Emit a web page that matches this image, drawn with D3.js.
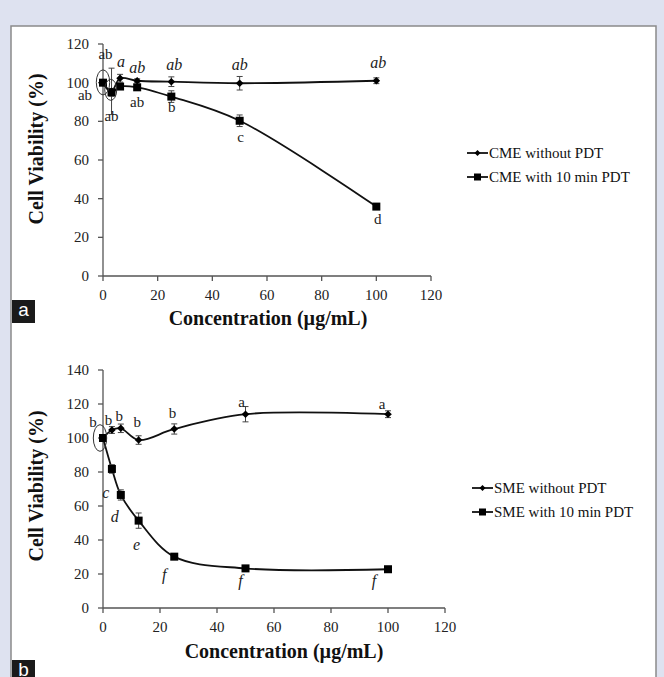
<!DOCTYPE html>
<html>
<head>
<meta charset="utf-8">
<script src="https://cdn.jsdelivr.net/npm/d3@7"></script>
<style>
  body { margin: 0; background: #dee2f0; }
  svg { display: block; font-family: 'Liberation Serif', 'Times New Roman', serif; }
</style>
</head>
<body>
<article></article>
<script>
// Data
const concentrations = [0, 3.125, 6.25, 12.5, 25, 50, 100];

const cmeWithout = [100, 95.5, 102.3, 101, 100.5, 99.7, 101];
const cmeWithoutErr = [1, 12, 2, 1, 2.5, 3.5, 1.5];
const cmeWith = [100, 95, 98, 97.6, 92.8, 80.3, 35.9];
const cmeWithErr = [1, 2, 1.5, 1, 3, 3, 1];

const smeWithout = [100, 104.7, 105.7, 98.8, 105.3, 114, 114];
const smeWithoutErr = [1, 2, 2.5, 2.5, 3, 4.5, 2];
const smeWith = [100, 81.8, 66.5, 51.4, 30.2, 23.3, 22.8];
const smeWithErr = [1, 2.5, 3, 4.5, 1, 1, 1];

// significance letters (index aligned with concentrations)
const cmeWithoutLetters = ['ab', '', 'a', 'ab', 'ab', 'ab', 'ab'];
const cmeWithLetters = ['ab', 'ab', '', 'ab', 'b', 'c', 'd'];
const smeWithoutLetters = ['b', 'b', 'b', 'b', 'b', 'a', 'a'];
const smeWithLetters = ['', 'c', 'd', 'e', 'f', 'f', 'f'];

const xTicks = [0, 20, 40, 60, 80, 100, 120];
const yTicksA = [0, 20, 40, 60, 80, 100, 120];
const yTicksB = [0, 20, 40, 60, 80, 100, 120, 140];

const legendA = ['CME without PDT', 'CME with 10 min PDT'];
const legendB = ['SME without PDT', 'SME with 10 min PDT'];

(() => {
  window.addEventListener('DOMContentLoaded', () => {
    const WIDTH = 664;
    const HEIGHT = 677;

    const svg = d3
      .select('article')
      .append('svg')
      .attr('width', WIDTH)
      .attr('height', HEIGHT)
      .attr('viewBox', `0 0 ${WIDTH} ${HEIGHT}`);

    svg
      .append('rect')
      .attr('width', WIDTH)
      .attr('height', HEIGHT)
      .attr('fill', '#dee2f0');

    // white figure panel
    svg
      .append('rect')
      .attr('x', 11)
      .attr('y', 26)
      .attr('width', 645)
      .attr('height', 680)
      .attr('fill', '#fff')
      .attr('stroke', '#8a8a8a')
      .attr('stroke-width', 1.5);

    // Panel a
    renderPanel({
      x: d3.scaleLinear([0, 120], [103, 431]),
      y: d3.scaleLinear([0, 120], [276, 44]),
      yTicks: yTicksA,
      without: cmeWithout,
      withoutErr: cmeWithoutErr,
      withPdt: cmeWith,
      withErr: cmeWithErr,
      withoutLetters: cmeWithoutLetters,
      withoutOffsets: [[2.5, -29], [0, 0], [1, -16], [0, -13], [3, -17], [0, -18], [2, -18]],
      withoutItalic: [false, false, true, true, true, true, true],
      withLetters: cmeWithLetters,
      withOffsets: [[-18, 12.5], [0, 23.5], [0, 0], [0, 14.5], [0.5, 10], [1, 16], [1.5, 12.6]],
      withItalic: [false, false, false, false, false, false, false],
      ellipses: [
        { i: 0, dx: 0, dy: -0.3, rx: 6.7, ry: 12.5 },
        { i: 1, dx: -0.8, dy: -2.5, rx: 6, ry: 10.5 },
      ],
      legend: legendA,
      legendX: 467,
      legendY: [153, 177],
      titleX: 268,
      titleY: 325,
      yTitleY: 149,
      tickLabelY: 300,
      tag: 'a',
      tagY: 300,
    });

    // Panel b
    renderPanel({
      x: d3.scaleLinear([0, 120], [103, 445]),
      y: d3.scaleLinear([0, 140], [608, 370]),
      yTicks: yTicksB,
      without: smeWithout,
      withoutErr: smeWithoutErr,
      withPdt: smeWith,
      withErr: smeWithErr,
      withoutLetters: smeWithoutLetters,
      withoutOffsets: [[-10, -16.5], [-3.5, -10], [-1.5, -12.6], [-1.3, -18], [-1.7, -16], [-4, -12], [-6, -10]],
      withoutItalic: [false, false, false, false, false, false, false],
      withLetters: smeWithLetters,
      withOffsets: [[0, 0], [-6, 24], [-6, 22], [-2, 24], [-10, 18], [-5, 13], [-14, 12]],
      withItalic: [true, true, true, true, true, true, true],
      ellipses: [{ i: 0, dx: -3, dy: 0, rx: 6.7, ry: 13.3 }],
      legend: legendB,
      legendX: 472,
      legendY: [488, 512],
      titleX: 284,
      titleY: 658,
      yTitleY: 486,
      tickLabelY: 632,
      tag: 'b',
      tagY: 660,
    });

    function renderPanel(p) {
      const g = svg.append('g');
      const { x, y } = p;
      const [x0, x1] = x.range();
      const [y0, y1] = y.range();
      const axisColor = '#555';

      // y axis
      g.append('line')
        .attr('x1', x0).attr('x2', x0)
        .attr('y1', y0).attr('y2', y1)
        .attr('stroke', axisColor)
        .attr('stroke-width', 1.3);
      g.append('g')
        .selectAll('line')
        .data(p.yTicks)
        .join('line')
        .attr('x1', x0 - 5).attr('x2', x0)
        .attr('y1', (d) => y(d)).attr('y2', (d) => y(d))
        .attr('stroke', axisColor)
        .attr('stroke-width', 1.3);
      g.append('g')
        .selectAll('text')
        .data(p.yTicks)
        .join('text')
        .attr('x', x0 - 14)
        .attr('y', (d) => y(d) + 5)
        .attr('text-anchor', 'end')
        .attr('font-size', 15)
        .attr('fill', '#222')
        .text((d) => d);

      // x axis
      g.append('line')
        .attr('x1', x0).attr('x2', x1)
        .attr('y1', y0).attr('y2', y0)
        .attr('stroke', axisColor)
        .attr('stroke-width', 1.3);
      g.append('g')
        .selectAll('line')
        .data(xTicks)
        .join('line')
        .attr('x1', (d) => x(d)).attr('x2', (d) => x(d))
        .attr('y1', y0).attr('y2', y0 + 5)
        .attr('stroke', axisColor)
        .attr('stroke-width', 1.3);
      g.append('g')
        .selectAll('text')
        .data(xTicks)
        .join('text')
        .attr('x', (d) => x(d))
        .attr('y', p.tickLabelY)
        .attr('text-anchor', 'middle')
        .attr('font-size', 15)
        .attr('fill', '#222')
        .text((d) => d);

      // axis titles
      g.append('text')
        .attr('x', p.titleX)
        .attr('y', p.titleY)
        .attr('text-anchor', 'middle')
        .attr('font-size', 20)
        .attr('font-weight', 'bold')
        .attr('fill', '#111')
        .text('Concentration (µg/mL)');
      g.append('text')
        .attr('transform', `translate(43,${p.yTitleY}) rotate(-90)`)
        .attr('text-anchor', 'middle')
        .attr('font-size', 20)
        .attr('font-weight', 'bold')
        .attr('fill', '#111')
        .text('Cell Viability (%)');

      const line = d3
        .line()
        .x((d, i) => x(concentrations[i]))
        .y((d) => y(d))
        .curve(d3.curveCatmullRom.alpha(0.5));

      [p.withPdt, p.without].forEach((values) => {
        g.append('path')
          .datum(values)
          .attr('fill', 'none')
          .attr('stroke', '#111')
          .attr('stroke-width', 1.8)
          .attr('d', line);
      });

      // error bars
      const errorBars = (values, errs) => {
        const eg = g.append('g').attr('stroke', '#444').attr('stroke-width', 1);
        values.forEach((v, i) => {
          const cx = x(concentrations[i]);
          const top = y(v + errs[i]);
          const bottom = y(v - errs[i]);
          eg.append('line').attr('x1', cx).attr('x2', cx).attr('y1', top).attr('y2', bottom);
          eg.append('line').attr('x1', cx - 3).attr('x2', cx + 3).attr('y1', top).attr('y2', top);
          eg.append('line').attr('x1', cx - 3).attr('x2', cx + 3).attr('y1', bottom).attr('y2', bottom);
        });
      };
      errorBars(p.withPdt, p.withErr);
      errorBars(p.without, p.withoutErr);

      // markers
      g.append('g')
        .selectAll('rect')
        .data(p.withPdt)
        .join('rect')
        .attr('x', (d, i) => x(concentrations[i]) - 4)
        .attr('y', (d) => y(d) - 4)
        .attr('width', 8)
        .attr('height', 8)
        .attr('fill', '#000');
      g.append('g')
        .selectAll('path')
        .data(p.without)
        .join('path')
        .attr('d', (d, i) => diamond(x(concentrations[i]), y(d), 3.8))
        .attr('fill', '#000');

      // ellipses
      p.ellipses.forEach((e) => {
        g.append('ellipse')
          .attr('cx', x(concentrations[e.i]) + e.dx)
          .attr('cy', y(p.withPdt[e.i]) + e.dy)
          .attr('rx', e.rx)
          .attr('ry', e.ry)
          .attr('fill', 'none')
          .attr('stroke', '#333')
          .attr('stroke-width', 1);
      });

      // letters
      const letters = (values, texts, offsets, italic) => {
        texts.forEach((t, i) => {
          if (!t) return;
          g.append('text')
            .attr('x', x(concentrations[i]) + offsets[i][0])
            .attr('y', y(values[i]) + offsets[i][1] + 5)
            .attr('text-anchor', 'middle')
            .attr('font-size', italic[i] ? 16 : 15)
            .attr('font-style', italic[i] ? 'italic' : 'normal')
            .attr('fill', '#222')
            .text(t);
        });
      };
      letters(p.without, p.withoutLetters, p.withoutOffsets, p.withoutItalic);
      letters(p.withPdt, p.withLetters, p.withOffsets, p.withItalic);

      // legend
      const lg = g.append('g');
      p.legend.forEach((label, i) => {
        const ly = p.legendY[i];
        lg.append('line')
          .attr('x1', p.legendX).attr('x2', p.legendX + 21)
          .attr('y1', ly).attr('y2', ly)
          .attr('stroke', '#111')
          .attr('stroke-width', 1.8);
        if (i === 0) {
          lg.append('path')
            .attr('d', diamond(p.legendX + 10.5, ly, 3))
            .attr('fill', '#000');
        } else {
          lg.append('rect')
            .attr('x', p.legendX + 7)
            .attr('y', ly - 3.5)
            .attr('width', 7)
            .attr('height', 7)
            .attr('fill', '#000');
        }
        lg.append('text')
          .attr('x', p.legendX + 22)
          .attr('y', ly + 5)
          .attr('font-size', 15)
          .attr('fill', '#111')
          .text(label);
      });

      // panel tag
      g.append('rect')
        .attr('x', 12)
        .attr('y', p.tagY)
        .attr('width', 23)
        .attr('height', 23)
        .attr('fill', '#1a1a1a');
      g.append('text')
        .attr('x', 23.5)
        .attr('y', p.tagY + 16)
        .attr('text-anchor', 'middle')
        .attr('font-family', 'Liberation Sans, Arial, sans-serif')
        .attr('font-size', 19)
        .attr('fill', '#fff')
        .text(p.tag);
    }

    function diamond(cx, cy, r) {
      return `M${cx},${cy - r}L${cx + r},${cy}L${cx},${cy + r}L${cx - r},${cy}Z`;
    }
  });
})();
</script>
</body>
</html>
